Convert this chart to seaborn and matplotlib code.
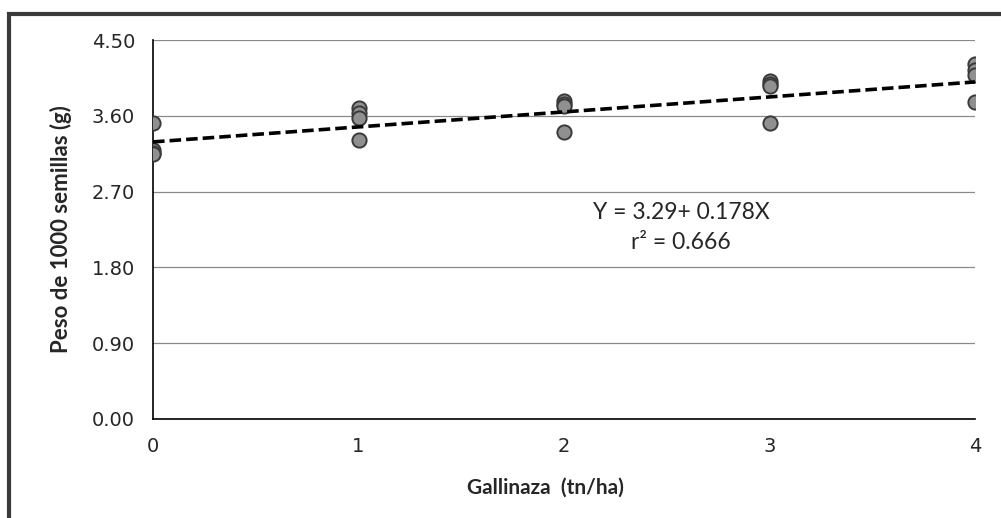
import pandas as pd
import matplotlib
matplotlib.use("Agg")
import matplotlib.pyplot as plt
from matplotlib.patches import Rectangle
import seaborn as sns

# Data (4 reps per dose)
gallinaza = [0, 0, 0, 0, 1, 1, 1, 1, 2, 2, 2, 2, 3, 3, 3, 3, 4, 4, 4, 4]
peso = [3.51, 3.19, 3.16, 3.15,
        3.69, 3.63, 3.57, 3.31,
        3.77, 3.74, 3.72, 3.41,
        4.01, 3.98, 3.95, 3.51,
        4.21, 4.14, 4.09, 3.76]
intercepto = 3.29
pendiente = 0.178
x_ticks = [0, 1, 2, 3, 4]
y_ticks = [0.00, 0.90, 1.80, 2.70, 3.60, 4.50]

df = pd.DataFrame({"Gallinaza": gallinaza, "Peso": peso})
linea = pd.DataFrame({"Gallinaza": [0, 4]})
linea["Peso"] = intercepto + pendiente * linea["Gallinaza"]

sns.set_style("white")
plt.rcParams["font.family"] = ["DejaVu Sans"]

fig = plt.figure(figsize=(10.01, 5.18), dpi=100)
ax = fig.add_axes([153 / 1001, 1 - 419 / 518, (975 - 153) / 1001, (419 - 40) / 518])

# outer frame
fig.patches.append(Rectangle((9 / 1001, -0.1), 1.2, 1 - 14 / 518 + 0.1,
                             transform=fig.transFigure, fill=False,
                             edgecolor="#3a3a3a", linewidth=3))

for yt in y_ticks[1:]:
    ax.axhline(yt, color="#8a8a8a", linewidth=0.9, zorder=0)

sns.scatterplot(data=df, x="Gallinaza", y="Peso", ax=ax, s=105,
                color="#909090", edgecolor="#3a3a3a", linewidth=1.4, zorder=3)
sns.lineplot(data=linea, x="Gallinaza", y="Peso", ax=ax, color="black",
             linewidth=2.6, dashes=(3.2, 1.4), zorder=4)

ax.set_xlim(0, 4)
ax.set_ylim(0, 4.5)
ax.set_xticks(x_ticks)
ax.set_yticks(y_ticks)
ax.set_yticklabels([f"{v:.2f}" for v in y_ticks])
ax.tick_params(axis="both", direction="inout", length=6, width=1,
               labelsize=14, color="black", pad=10)
for s in ["top", "right"]:
    ax.spines[s].set_visible(False)
for s in ["left", "bottom"]:
    ax.spines[s].set_color("black")
    ax.spines[s].set_linewidth(1.2)

ax.set_xlabel("Gallinaza  (tn/ha)", fontsize=15, fontweight="bold", family="Lato")
ax.xaxis.set_label_coords(0.477, -0.155)
ax.set_ylabel("Peso de 1000 semillas (g)", fontsize=16, fontweight="bold",
              family="Lato", labelpad=14)

ax.text(2.57, 2.45, "Y = 3.29+ 0.178X", fontsize=16.5, family="Lato",
        ha="center", va="center")
ax.text(2.57, 2.09, "r² = 0.666", fontsize=16.5, family="Lato",
        ha="center", va="center")

fig.savefig("out.png", dpi=100)
